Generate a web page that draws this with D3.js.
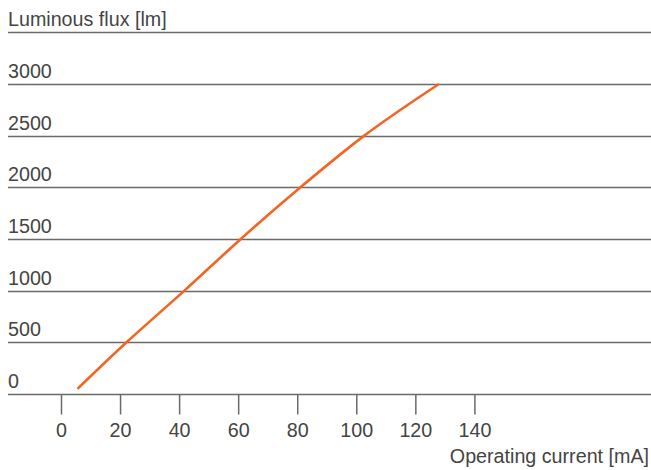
<!DOCTYPE html>
<html>
<head>
<meta charset="utf-8">
<script src="https://cdn.jsdelivr.net/npm/d3@7"></script>
<style>
html,body{margin:0;padding:0;background:#fff;}
svg{display:block;}
text{font-family:"Liberation Sans",Arial,Helvetica,sans-serif;font-size:19.7px;fill:#444;}
</style>
</head>
<body>
<svg id="chart" width="651" height="470"></svg>
<script>
// Data
const currentMA = [5.6, 22.2, 41.8, 60.9, 81.1, 102.7, 128];
const fluxLm    = [50, 500, 1000, 1500, 2000, 2500, 3000];
const yTicks = [0, 500, 1000, 1500, 2000, 2500, 3000];
const xTicks = [0, 20, 40, 60, 80, 100, 120, 140];
const yTitle = "Luminous flux [lm]";
const xTitle = "Operating current [mA]";

const svg = d3.select("#chart");
const x = d3.scaleLinear().domain([0, 140]).range([61, 474.4]);
const y = d3.scaleLinear().domain([0, 3500]).range([394, 32.3]);

const gridLeft = 8, gridRight = 651;

// gridlines (including top line for the title)
const gridVals = yTicks.concat([3500]);
svg.append("g").selectAll("line").data(gridVals).join("line")
  .attr("x1", gridLeft).attr("x2", gridRight)
  .attr("y1", d => Math.round(y(d)) + 0.5).attr("y2", d => Math.round(y(d)) + 0.5)
  .attr("stroke", "#6a6a6a").attr("stroke-width", 1.5);

// y labels above the lines
svg.append("g").selectAll("text").data(yTicks).join("text")
  .attr("x", gridLeft).attr("y", d => Math.round(y(d)) - 6.5)
  .text(d => d);
svg.append("text").attr("x", gridLeft).attr("y", Math.round(y(3500)) - 6.5).text(yTitle);

// x axis ticks
const xAxis = d3.axisBottom(x).tickValues(xTicks).tickSize(20).tickPadding(9).tickFormat(d3.format("d"));
const gx = svg.append("g").attr("transform", `translate(0,${Math.round(y(0)) + 0.5})`).call(xAxis);
gx.select(".domain").remove();
gx.selectAll(".tick line").attr("stroke", "#6a6a6a").attr("stroke-width", 1.5);
gx.selectAll(".tick text").attr("fill", "#444").attr("font-size", "19.7px")
  .attr("font-family", "\"Liberation Sans\",Arial,sans-serif");

svg.append("text").attr("x", 649).attr("y", 463).attr("text-anchor", "end").text(xTitle);

// curve
const pts = currentMA.map((c, i) => [c, fluxLm[i]]);
const line = d3.line().x(d => x(d[0])).y(d => y(d[1])).curve(d3.curveMonotoneX);
svg.append("path").datum(pts).attr("d", line)
  .attr("fill", "none").attr("stroke", "#f26522").attr("stroke-width", 2.6);
</script>
</body>
</html>
